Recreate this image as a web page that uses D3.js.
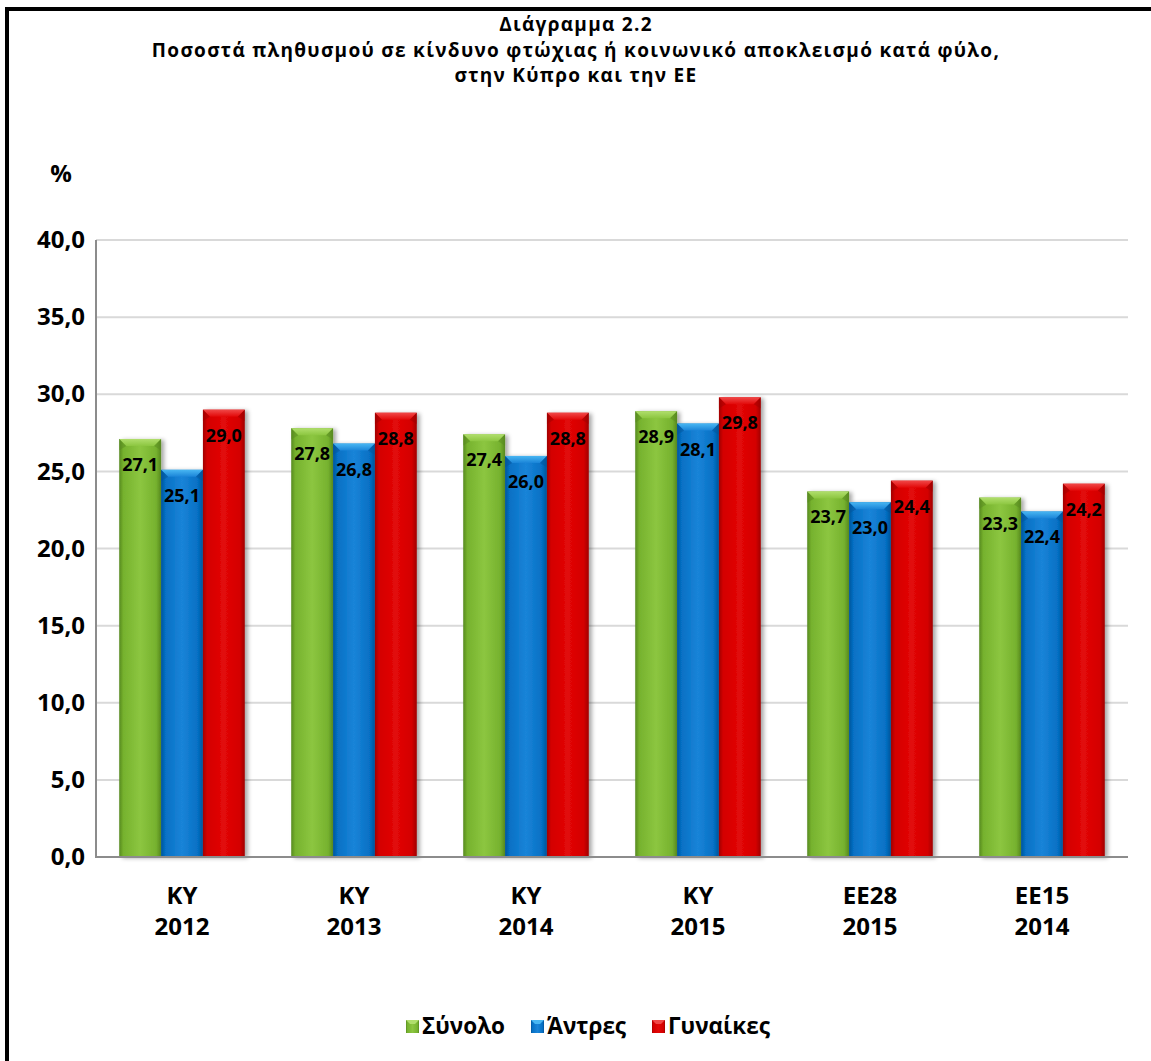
<!DOCTYPE html>
<html>
<head>
<meta charset="utf-8">
<script src="https://cdn.jsdelivr.net/npm/d3@7"></script>
<style>
  html, body { margin: 0; padding: 0; background: #fff; }
  svg { display: block; }
  text { font-family: "Open Sans", "Noto Sans", sans-serif; font-weight: 700; fill: #000; }
</style>
</head>
<body>
<svg id="chart" width="1151" height="1061"></svg>
<script>
// ---- data ----
const catTop = ["ΚΥ", "ΚΥ", "ΚΥ", "ΚΥ", "ΕΕ28", "ΕΕ15"];
const catBottom = ["2012", "2013", "2014", "2015", "2015", "2014"];
const seriesNames = ["Σύνολο", "Άντρες", "Γυναίκες"];
const totalValues = [27.1, 27.8, 27.4, 28.9, 23.7, 23.3];
const menValues = [25.1, 26.8, 26.0, 28.1, 23.0, 22.4];
const womenValues = [29.0, 28.8, 28.8, 29.8, 24.4, 24.2];
const yTicks = [0, 5, 10, 15, 20, 25, 30, 35, 40];
const titleLines = [
  "Διάγραμμα 2.2",
  "Ποσοστά πληθυσμού  σε κίνδυνο φτώχιας ή κοινωνικό αποκλεισμό κατά φύλο,",
  "στην Κύπρο και την ΕΕ"
];
const yUnit = "%";

const seriesValues = [totalValues, menValues, womenValues];
const palettes = [
  { base: "#76b22e", dark: "#578a20", light: "#8cc640", top: "#b0de6c" },
  { base: "#0670c4", dark: "#04549a", light: "#1a84d8", top: "#48b6f2" },
  { base: "#d40000", dark: "#a00000", light: "#e20808", top: "#f04848" }
];

const svg = d3.select("#chart");
const defs = svg.append("defs");

palettes.forEach((p, i) => {
  const g = defs.append("linearGradient").attr("id", "grad" + i)
    .attr("x1", "0").attr("x2", "1").attr("y1", "0").attr("y2", "0");
  g.append("stop").attr("offset", "0%").attr("stop-color", p.dark);
  g.append("stop").attr("offset", "10%").attr("stop-color", p.base);
  g.append("stop").attr("offset", "50%").attr("stop-color", p.light);
  g.append("stop").attr("offset", "88%").attr("stop-color", p.base);
  g.append("stop").attr("offset", "100%").attr("stop-color", p.dark);
  const t = defs.append("linearGradient").attr("id", "top" + i)
    .attr("x1", "0").attr("x2", "0").attr("y1", "0").attr("y2", "1");
  t.append("stop").attr("offset", "0%").attr("stop-color", p.top);
  t.append("stop").attr("offset", "100%").attr("stop-color", p.light);
});
const sh = defs.append("filter").attr("id", "shadow")
  .attr("x", "-20%").attr("y", "-10%").attr("width", "150%").attr("height", "130%");
sh.append("feDropShadow").attr("dx", 3).attr("dy", 1).attr("stdDeviation", 2)
  .attr("flood-color", "#000").attr("flood-opacity", 0.35);

// frame
svg.append("rect").attr("x", 7).attr("y", 9).attr("width", 1200).attr("height", 1100)
  .attr("fill", "none").attr("stroke", "#000").attr("stroke-width", 4);

// title
svg.append("g").selectAll("text").data(titleLines).join("text")
  .attr("x", 576).attr("y", (d, i) => 31 + i * 25.5)
  .attr("text-anchor", "middle").attr("font-size", 19)
  .attr("letter-spacing", 1.3).text(d => d);

// scales
const plot = { left: 96, right: 1128, top: 240, bottom: 857 };
const y = d3.scaleLinear().domain([0, 40]).range([plot.bottom, plot.top]);
const x0 = d3.scaleBand().domain(d3.range(catTop.length))
  .range([plot.left, plot.right]).paddingInner(0.27).paddingOuter(0.135);
const x1 = d3.scaleBand().domain(d3.range(seriesNames.length))
  .range([0, x0.bandwidth()]);

// gridlines
svg.append("g").selectAll("line").data(yTicks.filter(t => t > 0)).join("line")
  .attr("x1", plot.left).attr("x2", plot.right)
  .attr("y1", d => y(d)).attr("y2", d => y(d))
  .attr("stroke", "#d9d9d9").attr("stroke-width", 2);

// y axis labels
const yAxis = d3.axisLeft(y).tickValues(yTicks).tickSize(0).tickPadding(11)
  .tickFormat(d => d3.format(".1f")(d).replace(".", ","));
const yg = svg.append("g").attr("transform", `translate(${plot.left},0)`).call(yAxis);
yg.select(".domain").remove();
yg.selectAll("text").attr("font-size", 24).style("font-family", "'Open Sans', sans-serif")
  .style("font-weight", 700).attr("fill", "#000");

svg.append("text").attr("x", 61).attr("y", 182).attr("text-anchor", "middle")
  .attr("font-size", 24).text(yUnit);

// bars
const bev = 7;
const groups = svg.append("g").selectAll("g").data(d3.range(catTop.length)).join("g")
  .attr("transform", i => `translate(${x0(i)},0)`);
seriesNames.forEach((s, si) => {
  const bars = groups.append("g").datum(i => ({ i, v: seriesValues[si][i] }));
  bars.each(function (d) {
    const g = d3.select(this);
    const bx = x1(si), bw = x1.bandwidth();
    const by = y(d.v), bh = y(0) - y(d.v);
    g.append("rect").attr("x", bx).attr("y", by).attr("width", bw).attr("height", bh)
      .attr("fill", `url(#grad${si})`).attr("filter", "url(#shadow)");
    g.append("path")
      .attr("d", `M${bx},${by} L${bx + bw},${by} L${bx + bw - bev},${by + bev} L${bx + bev},${by + bev} Z`)
      .attr("fill", `url(#top${si})`);
    g.append("path")
      .attr("d", `M${bx},${by} L${bx + bev},${by + bev} L${bx},${by + bev * 1.6} Z`)
      .attr("fill", palettes[si].dark).attr("opacity", 0.5);
    g.append("path")
      .attr("d", `M${bx + bw},${by} L${bx + bw - bev},${by + bev} L${bx + bw},${by + bev * 1.6} Z`)
      .attr("fill", palettes[si].dark).attr("opacity", 0.5);
    g.append("text").attr("x", bx + bw / 2).attr("y", by + 32)
      .attr("text-anchor", "middle").attr("font-size", 18)
      .text(d3.format(".1f")(d.v).replace(".", ","));
  });
});

// axes lines
svg.append("line").attr("x1", plot.left).attr("x2", plot.left)
  .attr("y1", plot.top).attr("y2", plot.bottom + 1).attr("stroke", "#8c8c8c").attr("stroke-width", 2);
svg.append("line").attr("x1", plot.left).attr("x2", plot.right)
  .attr("y1", plot.bottom).attr("y2", plot.bottom).attr("stroke", "#8c8c8c").attr("stroke-width", 2);

// x labels
const xl = svg.append("g").selectAll("g").data(d3.range(catTop.length)).join("g");
xl.append("text").attr("x", i => x0(i) + x0.bandwidth() / 2).attr("y", 904)
  .attr("text-anchor", "middle").attr("font-size", 24).text(i => catTop[i]);
xl.append("text").attr("x", i => x0(i) + x0.bandwidth() / 2).attr("y", 935)
  .attr("text-anchor", "middle").attr("font-size", 24).text(i => catBottom[i]);

// legend
const legendX = [406, 531, 652];
const lg = svg.append("g").selectAll("g").data(seriesNames).join("g")
  .attr("transform", (d, i) => `translate(${legendX[i]},1020)`);
lg.append("rect").attr("width", 13).attr("height", 13)
  .attr("fill", (d, i) => `url(#grad${i})`);
lg.append("path").attr("d", "M0,0 L13,0 L9,4 L4,4 Z").attr("fill", (d, i) => palettes[i].top);
lg.append("text").attr("x", 16).attr("y", 14).attr("font-size", 22.5).text(d => d);
</script>
</body>
</html>
